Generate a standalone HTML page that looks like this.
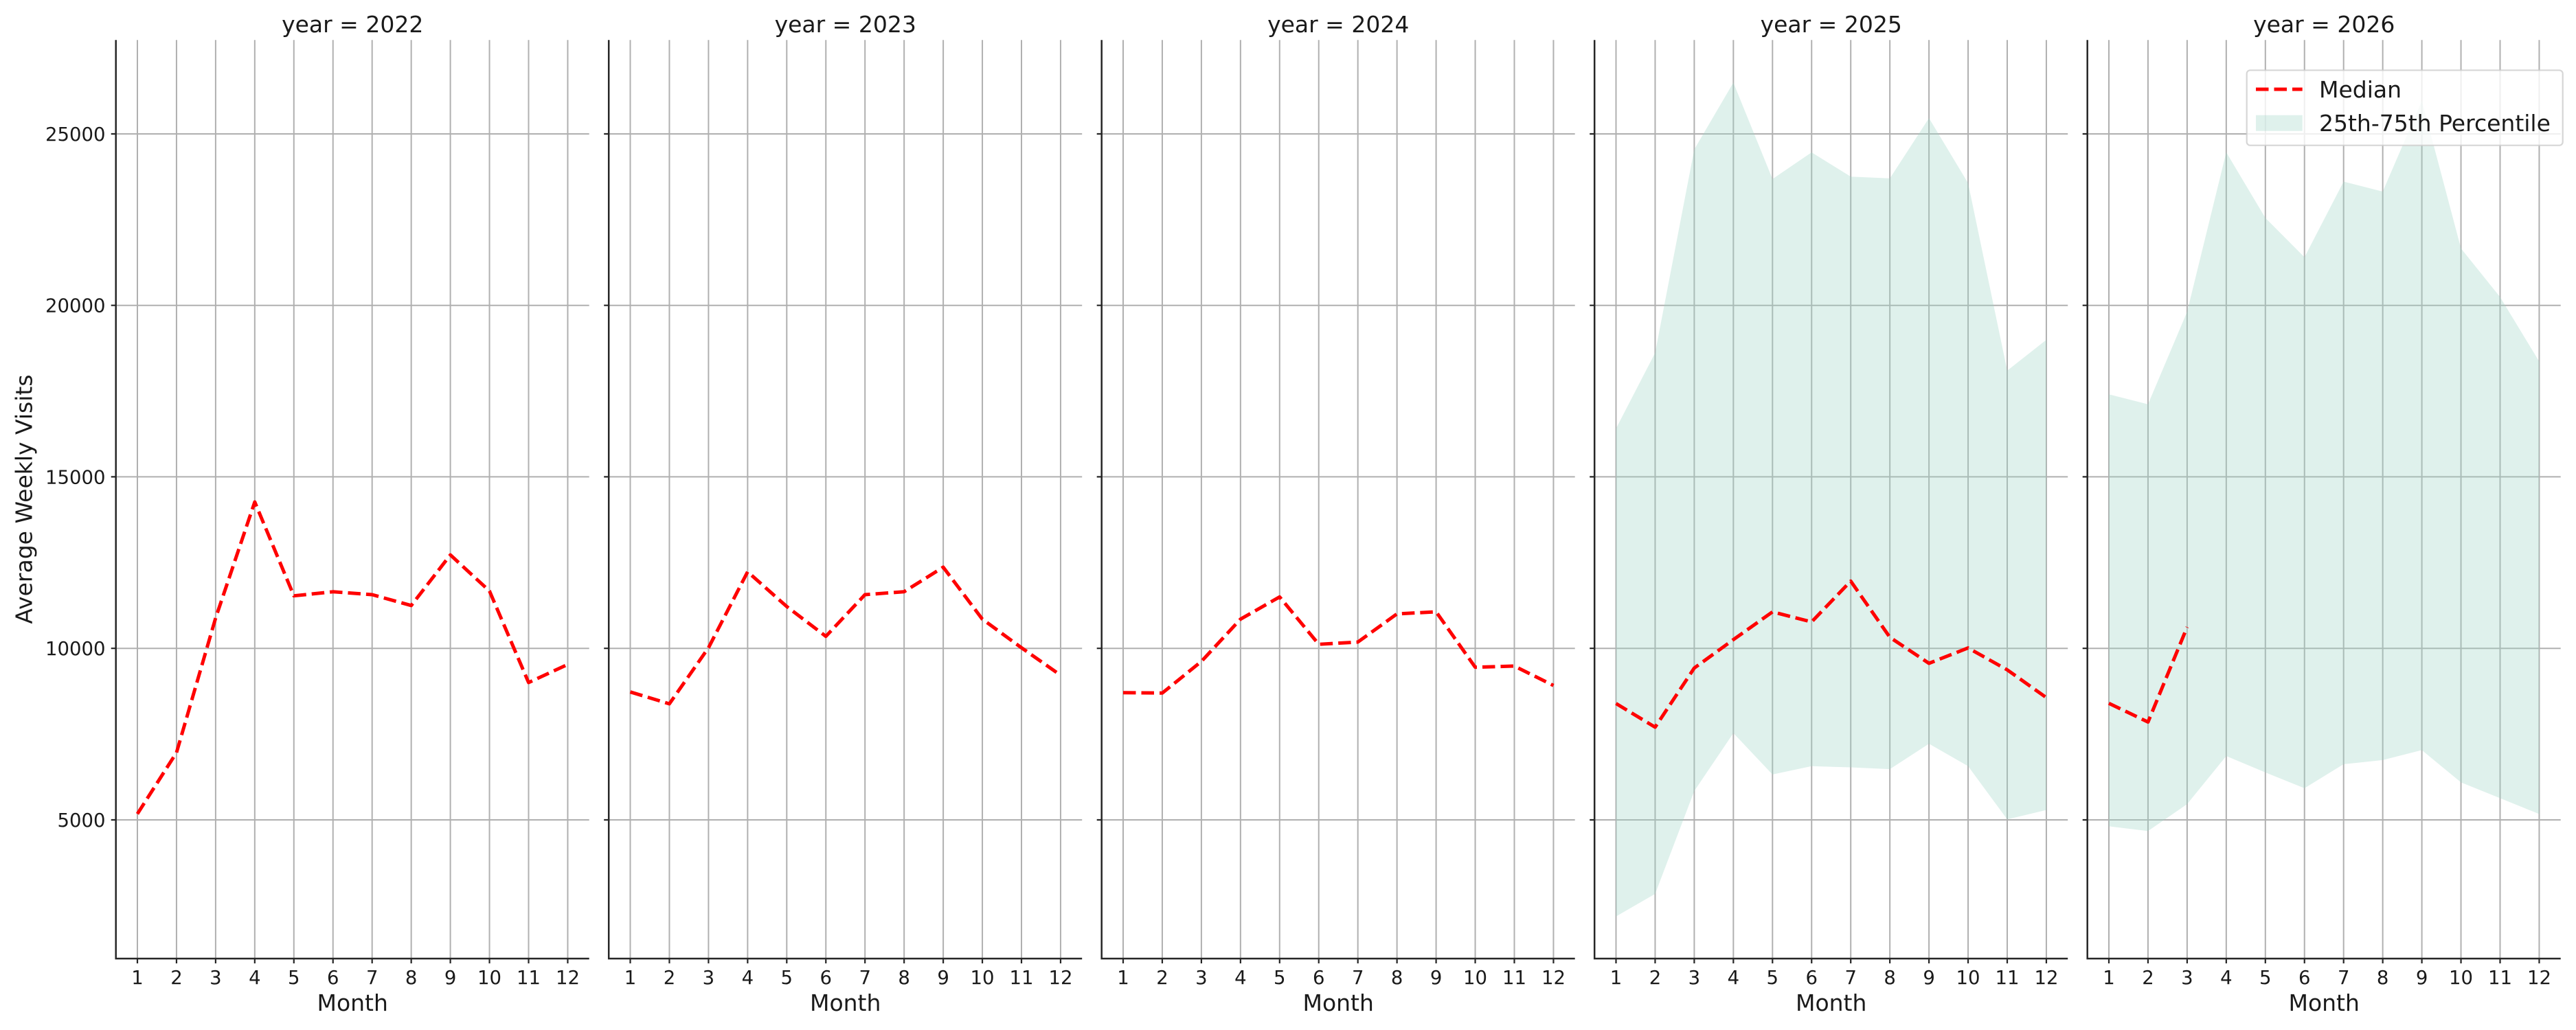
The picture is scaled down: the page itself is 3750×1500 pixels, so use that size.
<!DOCTYPE html>
<html>
<head>
<meta charset="utf-8">
<style>
  html, body { margin: 0; padding: 0; background: #ffffff; }
  svg { display: block; }
  text { font-family: "DejaVu Sans", "Liberation Sans", sans-serif; fill: #1a1a1a; }
</style>
</head>
<body>
<svg width="3750" height="1500" viewBox="0 0 3750 1500" xmlns="http://www.w3.org/2000/svg">
  <rect x="0" y="0" width="3750" height="1500" fill="#ffffff"/>

  <!-- GRIDS -->
  <g stroke="#b0b0b0" stroke-width="2" fill="none">
    <g transform="translate(168.7,0)">
      <path d="M31.3 58.3V1396M88.25 58.3V1396M145.2 58.3V1396M202.15 58.3V1396M259.1 58.3V1396M316.05 58.3V1396M373 58.3V1396M429.95 58.3V1396M486.9 58.3V1396M543.85 58.3V1396M600.8 58.3V1396M657.75 58.3V1396M0 195H689M0 444.7H689M0 694.4H689M0 944.2H689M0 1194H689"/>
    </g>
    <g transform="translate(886.2,0)">
      <path d="M31.3 58.3V1396M88.25 58.3V1396M145.2 58.3V1396M202.15 58.3V1396M259.1 58.3V1396M316.05 58.3V1396M373 58.3V1396M429.95 58.3V1396M486.9 58.3V1396M543.85 58.3V1396M600.8 58.3V1396M657.75 58.3V1396M0 195H689M0 444.7H689M0 694.4H689M0 944.2H689M0 1194H689"/>
    </g>
    <g transform="translate(1603.7,0)">
      <path d="M31.3 58.3V1396M88.25 58.3V1396M145.2 58.3V1396M202.15 58.3V1396M259.1 58.3V1396M316.05 58.3V1396M373 58.3V1396M429.95 58.3V1396M486.9 58.3V1396M543.85 58.3V1396M600.8 58.3V1396M657.75 58.3V1396M0 195H689M0 444.7H689M0 694.4H689M0 944.2H689M0 1194H689"/>
    </g>
    <g transform="translate(2321.2,0)">
      <path d="M31.3 58.3V1396M88.25 58.3V1396M145.2 58.3V1396M202.15 58.3V1396M259.1 58.3V1396M316.05 58.3V1396M373 58.3V1396M429.95 58.3V1396M486.9 58.3V1396M543.85 58.3V1396M600.8 58.3V1396M657.75 58.3V1396M0 195H689M0 444.7H689M0 694.4H689M0 944.2H689M0 1194H689"/>
    </g>
    <g transform="translate(3038.7,0)">
      <path d="M31.3 58.3V1396M88.25 58.3V1396M145.2 58.3V1396M202.15 58.3V1396M259.1 58.3V1396M316.05 58.3V1396M373 58.3V1396M429.95 58.3V1396M486.9 58.3V1396M543.85 58.3V1396M600.8 58.3V1396M657.75 58.3V1396M0 195H689M0 444.7H689M0 694.4H689M0 944.2H689M0 1194H689"/>
    </g>
  </g>

  <!-- PERCENTILE BANDS -->
  <g fill="#9fd5c6" fill-opacity="0.33" stroke="none">
    <polygon points="2352.5,624.1 2409.45,513.9 2466.4,217.6 2523.35,120.3 2580.3,260.7 2637.25,221.9 2694.2,257.2 2751.15,259.8 2808.1,172 2865.05,266.7 2922,539.7 2978.95,494.9 2978.95,1179.6 2922,1193.3 2865.05,1115.8 2808.1,1083.1 2751.15,1120.1 2694.2,1117.5 2637.25,1115.8 2580.3,1127.9 2523.35,1067.6 2466.4,1152 2409.45,1301.8 2352.5,1334.6"/>
    <polygon points="3070,574.3 3126.95,588.8 3183.9,454 3240.85,221.8 3297.8,317.4 3354.75,374.6 3411.7,264.5 3468.65,279 3525.6,146.7 3582.55,361.8 3639.5,432.6 3696.45,526.5 3696.45,1185.5 3639.5,1162.4 3582.55,1139.4 3525.6,1092.4 3468.65,1106.9 3411.7,1112.9 3354.75,1147.9 3297.8,1124.9 3240.85,1101 3183.9,1171 3126.95,1210.3 3070,1203.4"/>
  </g>

  <!-- MEDIAN LINES -->
  <g fill="none" stroke="#ff0000" stroke-width="5" stroke-dasharray="18.5 8" stroke-linejoin="round">
    <polyline points="200,1185.3 256.95,1096 313.9,900 370.85,731 427.8,867.7 484.75,861.8 541.7,866 598.65,881.8 655.6,808.1 712.55,860.7 769.5,994 826.45,967.7"/>
    <polyline points="917.5,1007.7 974.45,1025 1031.4,943.3 1088.35,832.7 1145.3,883.3 1202.25,926.7 1259.2,866 1316.15,861.7 1373.1,826 1430.05,901.7 1487,943.3 1543.95,983.3"/>
    <polyline points="1635,1008.7 1691.95,1009.3 1748.9,963.3 1805.85,901.7 1862.8,869.3 1919.75,938.3 1976.7,935 2033.65,894 2090.6,891 2147.55,971.7 2204.5,970 2261.45,998.3"/>
    <polyline points="2352.5,1024.5 2409.45,1059 2466.4,972.9 2523.35,931.5 2580.3,891.1 2637.25,905.7 2694.2,846.3 2751.15,928.1 2808.1,966 2865.05,943.6 2922,975.5 2978.95,1015.9"/>
    <polyline points="3070,1024.2 3126.95,1051.5 3183.9,913.2"/>
  </g>

  <!-- SPINES, TICKS, LABELS PER PANEL -->
  <g transform="translate(168.7,0)">
    <path d="M0 58.3V1397.2M-1.2 1396H689" stroke="#262626" stroke-width="2.5" fill="none"/>
    <path d="M-7 195H0M-7 444.7H0M-7 694.4H0M-7 944.2H0M-7 1194H0M31.3 1396V1403M88.25 1396V1403M145.2 1396V1403M202.15 1396V1403M259.1 1396V1403M316.05 1396V1403M373 1396V1403M429.95 1396V1403M486.9 1396V1403M543.85 1396V1403M600.8 1396V1403M657.75 1396V1403" stroke="#262626" stroke-width="2.2" fill="none"/>
    <g font-size="27.5" text-anchor="middle">
      <text x="31.3" y="1433">1</text><text x="88.25" y="1433">2</text><text x="145.2" y="1433">3</text><text x="202.15" y="1433">4</text><text x="259.1" y="1433">5</text><text x="316.05" y="1433">6</text><text x="373" y="1433">7</text><text x="429.95" y="1433">8</text><text x="486.9" y="1433">9</text><text x="543.85" y="1433">10</text><text x="600.8" y="1433">11</text><text x="657.75" y="1433">12</text>
    </g>
    <text x="344.5" y="1472" font-size="33" text-anchor="middle">Month</text>
    <text x="344.5" y="47" font-size="33" text-anchor="middle">year = 2022</text>
  </g>
  <g transform="translate(886.2,0)">
    <path d="M0 58.3V1397.2M-1.2 1396H689" stroke="#262626" stroke-width="2.5" fill="none"/>
    <path d="M-7 195H0M-7 444.7H0M-7 694.4H0M-7 944.2H0M-7 1194H0M31.3 1396V1403M88.25 1396V1403M145.2 1396V1403M202.15 1396V1403M259.1 1396V1403M316.05 1396V1403M373 1396V1403M429.95 1396V1403M486.9 1396V1403M543.85 1396V1403M600.8 1396V1403M657.75 1396V1403" stroke="#262626" stroke-width="2.2" fill="none"/>
    <g font-size="27.5" text-anchor="middle">
      <text x="31.3" y="1433">1</text><text x="88.25" y="1433">2</text><text x="145.2" y="1433">3</text><text x="202.15" y="1433">4</text><text x="259.1" y="1433">5</text><text x="316.05" y="1433">6</text><text x="373" y="1433">7</text><text x="429.95" y="1433">8</text><text x="486.9" y="1433">9</text><text x="543.85" y="1433">10</text><text x="600.8" y="1433">11</text><text x="657.75" y="1433">12</text>
    </g>
    <text x="344.5" y="1472" font-size="33" text-anchor="middle">Month</text>
    <text x="344.5" y="47" font-size="33" text-anchor="middle">year = 2023</text>
  </g>
  <g transform="translate(1603.7,0)">
    <path d="M0 58.3V1397.2M-1.2 1396H689" stroke="#262626" stroke-width="2.5" fill="none"/>
    <path d="M-7 195H0M-7 444.7H0M-7 694.4H0M-7 944.2H0M-7 1194H0M31.3 1396V1403M88.25 1396V1403M145.2 1396V1403M202.15 1396V1403M259.1 1396V1403M316.05 1396V1403M373 1396V1403M429.95 1396V1403M486.9 1396V1403M543.85 1396V1403M600.8 1396V1403M657.75 1396V1403" stroke="#262626" stroke-width="2.2" fill="none"/>
    <g font-size="27.5" text-anchor="middle">
      <text x="31.3" y="1433">1</text><text x="88.25" y="1433">2</text><text x="145.2" y="1433">3</text><text x="202.15" y="1433">4</text><text x="259.1" y="1433">5</text><text x="316.05" y="1433">6</text><text x="373" y="1433">7</text><text x="429.95" y="1433">8</text><text x="486.9" y="1433">9</text><text x="543.85" y="1433">10</text><text x="600.8" y="1433">11</text><text x="657.75" y="1433">12</text>
    </g>
    <text x="344.5" y="1472" font-size="33" text-anchor="middle">Month</text>
    <text x="344.5" y="47" font-size="33" text-anchor="middle">year = 2024</text>
  </g>
  <g transform="translate(2321.2,0)">
    <path d="M0 58.3V1397.2M-1.2 1396H689" stroke="#262626" stroke-width="2.5" fill="none"/>
    <path d="M-7 195H0M-7 444.7H0M-7 694.4H0M-7 944.2H0M-7 1194H0M31.3 1396V1403M88.25 1396V1403M145.2 1396V1403M202.15 1396V1403M259.1 1396V1403M316.05 1396V1403M373 1396V1403M429.95 1396V1403M486.9 1396V1403M543.85 1396V1403M600.8 1396V1403M657.75 1396V1403" stroke="#262626" stroke-width="2.2" fill="none"/>
    <g font-size="27.5" text-anchor="middle">
      <text x="31.3" y="1433">1</text><text x="88.25" y="1433">2</text><text x="145.2" y="1433">3</text><text x="202.15" y="1433">4</text><text x="259.1" y="1433">5</text><text x="316.05" y="1433">6</text><text x="373" y="1433">7</text><text x="429.95" y="1433">8</text><text x="486.9" y="1433">9</text><text x="543.85" y="1433">10</text><text x="600.8" y="1433">11</text><text x="657.75" y="1433">12</text>
    </g>
    <text x="344.5" y="1472" font-size="33" text-anchor="middle">Month</text>
    <text x="344.5" y="47" font-size="33" text-anchor="middle">year = 2025</text>
  </g>
  <g transform="translate(3038.7,0)">
    <path d="M0 58.3V1397.2M-1.2 1396H689" stroke="#262626" stroke-width="2.5" fill="none"/>
    <path d="M-7 195H0M-7 444.7H0M-7 694.4H0M-7 944.2H0M-7 1194H0M31.3 1396V1403M88.25 1396V1403M145.2 1396V1403M202.15 1396V1403M259.1 1396V1403M316.05 1396V1403M373 1396V1403M429.95 1396V1403M486.9 1396V1403M543.85 1396V1403M600.8 1396V1403M657.75 1396V1403" stroke="#262626" stroke-width="2.2" fill="none"/>
    <g font-size="27.5" text-anchor="middle">
      <text x="31.3" y="1433">1</text><text x="88.25" y="1433">2</text><text x="145.2" y="1433">3</text><text x="202.15" y="1433">4</text><text x="259.1" y="1433">5</text><text x="316.05" y="1433">6</text><text x="373" y="1433">7</text><text x="429.95" y="1433">8</text><text x="486.9" y="1433">9</text><text x="543.85" y="1433">10</text><text x="600.8" y="1433">11</text><text x="657.75" y="1433">12</text>
    </g>
    <text x="344.5" y="1472" font-size="33" text-anchor="middle">Month</text>
    <text x="344.5" y="47" font-size="33" text-anchor="middle">year = 2026</text>
  </g>

  <!-- Y TICK LABELS (first panel only) -->
  <g font-size="27.5" text-anchor="end">
    <text x="153.5" y="205">25000</text>
    <text x="153.5" y="454.7">20000</text>
    <text x="153.5" y="704.4">15000</text>
    <text x="153.5" y="954.2">10000</text>
    <text x="153.5" y="1204">5000</text>
  </g>

  <!-- Y AXIS LABEL -->
  <text transform="translate(46.5,727) rotate(-90)" font-size="33" text-anchor="middle">Average Weekly Visits</text>

  <!-- LEGEND -->
  <rect x="3270.7" y="102.3" width="460" height="109.4" rx="5" ry="5" fill="#ffffff" fill-opacity="0.8" stroke="#cccccc" stroke-opacity="0.8" stroke-width="2.2"/>
  <line x1="3284" y1="130" x2="3351.7" y2="130" stroke="#ff0000" stroke-width="5" stroke-dasharray="18.5 8"/>
  <rect x="3284" y="167.7" width="67.7" height="23" fill="#9fd5c6" fill-opacity="0.33"/>
  <text x="3376" y="142" font-size="33">Median</text>
  <text x="3376" y="191" font-size="33">25th-75th Percentile</text>
</svg>
</body>
</html>
